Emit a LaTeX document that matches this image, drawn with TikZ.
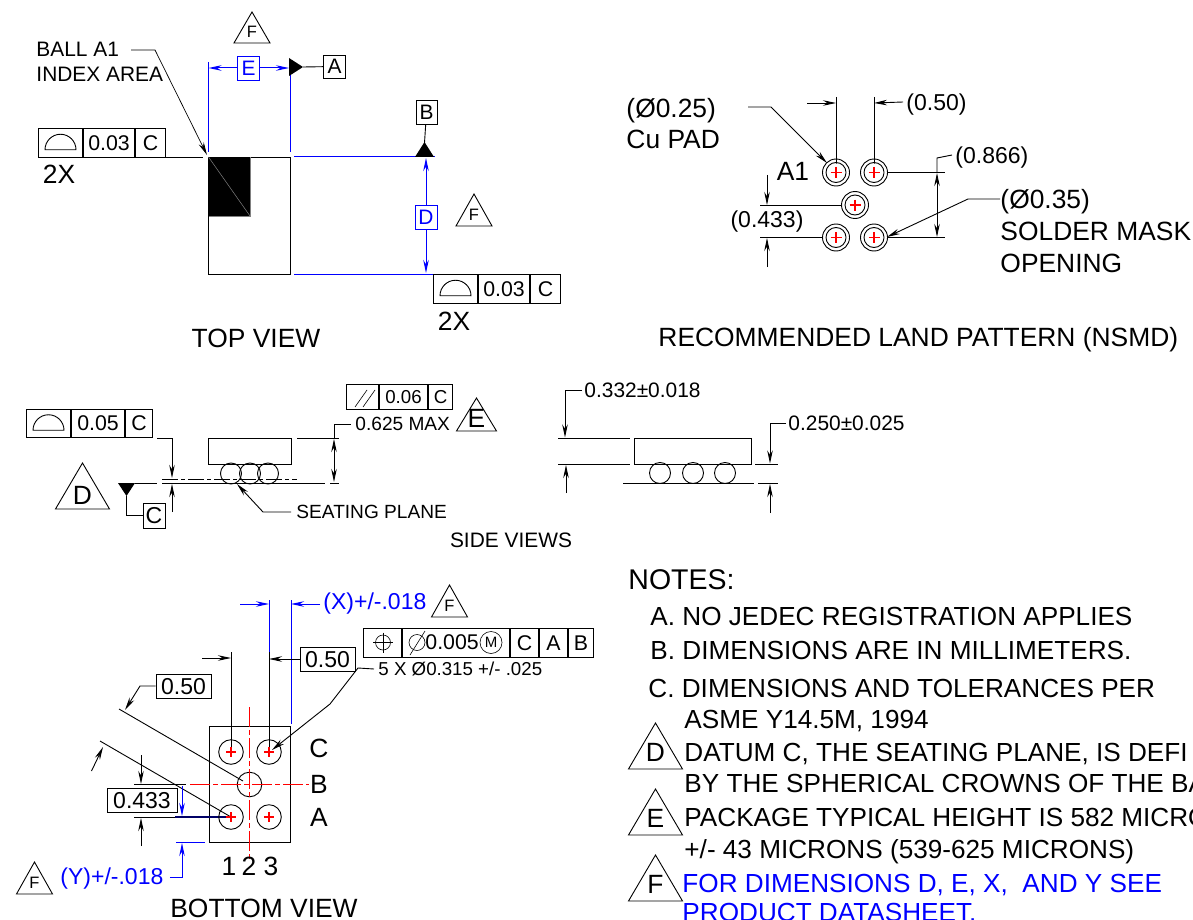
\documentclass[tikz,border=0pt]{standalone}
\usepackage{fontspec}
\setmainfont{Liberation Sans}
\usetikzlibrary{arrows.meta}
\tikzset{
    bigtxt/.style={font=\fontsize{26.4}{30}\selectfont, inner sep=0, text height=18.9pt, text depth=0pt},
    notetxt/.style={font=\fontsize{26.15}{30}\selectfont, inner sep=0, text height=18.7pt, text depth=0pt},
    midtxt/.style={font=\fontsize{23}{26}\selectfont, inner sep=0, text height=16.5pt, text depth=0pt},
    celltxt/.style={font=\fontsize{21.3}{24}\selectfont, inner sep=0, text height=15.3pt, text depth=0pt},
    smalltxt/.style={font=\fontsize{20.9}{24}\selectfont, inner sep=0, text height=15pt, text depth=0pt},
    leadertxt/.style={font=\fontsize{19.1}{22}\selectfont, inner sep=0, text height=13.7pt, text depth=0pt},
    tinytxt/.style={font=\fontsize{18.7}{22}\selectfont, inner sep=0, text height=13.4pt, text depth=0pt},
    flagtxt/.style={font=\fontsize{16.5}{18}\selectfont, inner sep=0, text height=11.8pt, text depth=0pt},
    cellbox/.style={draw, celltxt, minimum height=28.6pt, anchor=north west},
    letterbox/.style={draw, smalltxt, minimum width=22pt, minimum height=24pt},
    blueline/.style={blue, line width=1pt},
    redcentre/.style={red, line width=1.2pt, dash pattern=on 20pt off 3pt on 5pt off 3pt}
}
\newcommand{\flagtri}[8][0.64]{% letter height ratio, name, apex x, apex y, half width, height, letter, style
    \draw (#3, #4) -- ++(#5, #6) -- ++({-2*#5}, 0) -- cycle;
    \path (#3, #4) ++(0, {#1*#6}) node [#8] (#2) {#7};
}
\newcommand{\profileframe}[4]{% name, left, top, value
    \node [cellbox, minimum width=44.1pt] (#1sym) at (#2, #3) {};
    \node [cellbox, minimum width=51.1pt] (#1val) at (#1sym.north east) {#4};
    \node [cellbox, minimum width=30.1pt] (#1dat) at (#1val.north east) {C};
    \draw ([xshift=-15.5pt, yshift=-7pt]#1sym.center) arc [start angle=180, end angle=360, radius=15.5] -- cycle;
}
\begin{document}
\begin{tikzpicture}[x=1pt, y=-1pt, line width=0.9pt, >={Stealth[length=13pt, width=5.5pt]}]
    \useasboundingbox (0, 0) rectangle (1193, 920);
    % top view
    \draw (208.5, 157) rectangle (290.5, 274);
    \fill (208.5, 157) rectangle (250, 216);
    \draw [gray, line width=0.5pt] (208.5, 157) -- (250, 216);
    \draw [gray] (250, 157) -- (250, 216) -- (208.5, 216);
    \node [smalltxt, anchor=west] (ballA) at (36, 49) {BALL A1};
    \node [smalltxt, anchor=west] (indexarea) at (36, 74) {INDEX AREA};
    \draw [->, line width=0.7pt] (131, 50) -- (155, 50) -- (207, 155);
    \profileframe{topleft}{38}{128}{0.03}
    \draw (topleftdat.south east) -- (203, 157.5);
    \node [bigtxt] (twoXa) at (59, 174) {2X};
    \flagtri{flagtop}{252}{12}{18}{31}{F}{flagtxt}
    \draw [blueline] (208.5, 62) -- (208.5, 152);
    \draw [blueline] (290.5, 75) -- (290.5, 152);
    \node [letterbox, draw=blue, text=blue] (dimE) at (248.5, 68) {E};
    \draw [blueline, ->] (dimE) -- (208.5, 68);
    \draw [blueline, ->] (dimE) -- (289, 68);
    \node [letterbox, minimum height=23pt] (datumA) at (334.5, 66.5) {A};
    \fill (289, 58) -- (303, 67) -- (289, 76) -- cycle;
    \draw (303, 67) -- (datumA);
    \draw [blueline] (294, 156.7) -- (435, 156.7);
    \draw [blueline] (294, 274) -- (433, 274);
    \node [letterbox, minimum width=21pt] (datumB) at (426.5, 112) {B};
    \fill (415, 157) -- (424.5, 142) -- (434, 157) -- cycle;
    \draw (datumB) -- (424.5, 143);
    \node [letterbox, draw=blue, text=blue] (dimD) at (426, 217) {D};
    \draw [blueline, ->] (dimD) -- (426, 158);
    \draw [blueline, ->] (dimD) -- (426, 273);
    \flagtri{flagright}{474}{194}{18}{32}{F}{flagtxt}
    \profileframe{topright}{433}{274}{0.03}
    \node [bigtxt] (twoXb) at (454, 321) {2X};
    \node [bigtxt] (topview) at (256, 338) {TOP VIEW};
    % land pattern
    \node [bigtxt, anchor=west] (padsize) at (626, 108) {(Ø0.25)};
    \node [bigtxt, anchor=west] (cupad) at (626, 139) {Cu PAD};
    \node [bigtxt] (aone) at (793, 171) {A1};
    \draw [->] (748, 107) -- (771, 107) -- (827, 163);
    \draw (836, 97) -- (836, 172.5);
    \draw (874, 97) -- (874, 172.5);
    \node [midtxt, anchor=west] (pitchx) at (906, 102) {(0.50)};
    \draw [->] (807, 103) -- (836, 103);
    \draw [->] ([xshift=-3pt]pitchx.west) -- (874, 103);
    \draw (887, 172.5) -- (945, 172.5);
    \draw (887, 237.5) -- (945, 237.5);
    \node [midtxt, anchor=west] (pitchy) at (955, 155) {(0.866)};
    \draw [<->] (937, 173) -- (937, 237);
    \draw (937, 173) -- (937, 158) -- ([xshift=-3pt]pitchy.west);
    \draw (760, 205) -- (842, 205);
    \draw (760, 237.5) -- (823, 237.5);
    \node [midtxt] (rowy) at (767, 219) {(0.433)};
    \draw [->] (767, 175) -- (767, 205);
    \draw [->] (767, 267) -- (767, 238);
    \node [bigtxt, anchor=west] (masksize) at (1000, 199) {(Ø0.35)};
    \draw [->] (masksize.west) -- (968, 199) -- (887, 237);
    \node [bigtxt, anchor=west] (soldermask) at (1000, 231) {SOLDER MASK};
    \node [bigtxt, anchor=west] (opening) at (1000, 263) {OPENING};
    \node [bigtxt, anchor=west] (landview) at (658, 337) {RECOMMENDED LAND PATTERN (NSMD)};
    \foreach \px/\py in {836/172.5, 874/172.5, 855/205, 836/237.5, 874/237.5} {
        \fill [white] (\px, \py) circle [radius=9];
        \draw (\px, \py) circle [radius=13.5];
        \draw (\px, \py) circle [radius=10];
        \draw [red, line width=1.1pt] (\px, \py) ++(-5.5, 0) -- ++(11, 0);
        \draw [red, line width=1.1pt] (\px, \py) ++(0, -5.5) -- ++(0, 11);
    }
    % side views
    \node [cellbox, minimum width=44.1pt] (sidesym) at (26, 408.5) {};
    \node [cellbox, minimum width=53.1pt] (sideval) at (sidesym.north east) {0.05};
    \node [cellbox, minimum width=27.1pt] (sidedat) at (sideval.north east) {C};
    \draw ([xshift=-15.5pt, yshift=-7pt]sidesym.center) arc [start angle=180, end angle=360, radius=15.5] -- cycle;
    \node [draw, tinytxt, minimum width=32.1pt, minimum height=25.6pt, anchor=north west] (parsym) at (346, 383.5) {};
    \node [draw, tinytxt, minimum width=48.1pt, minimum height=25.6pt, anchor=north west] (parval) at (parsym.north east) {0.06};
    \node [draw, tinytxt, minimum width=24.1pt, minimum height=25.6pt, anchor=north west] (pardat) at (parval.north east) {C};
    \foreach \sx in {355, 363} {
        \draw [line width=0.6pt] (\sx, 407) -- ++(12, -17);
    }
    \draw (208.5, 438) rectangle (291, 464);
    \foreach \bx in {231, 250, 268} {
        \draw (\bx, 473.5) circle [radius=10.5];
    }
    \draw (135, 483) -- (157, 483);
    \draw (162, 483) -- (325, 483);
    \draw [dash pattern=on 16pt off 3pt on 4pt off 3pt, line width=0.6pt] (162, 479) -- (297, 479);
    \draw (297, 438) -- (339, 438);
    \draw (330, 483) -- (339, 483);
    \node [leadertxt, anchor=west] (maxheight) at (355, 424) {0.625 MAX};
    \draw [<->] (334, 439) -- (334, 482);
    \draw (334, 439) -- (334, 424) -- ([xshift=-4pt]maxheight.west);
    \flagtri[0.6]{flagE}{476.5}{398}{20}{33}{E}{bigtxt}
    \flagtri[0.7]{flagD}{82.5}{463}{27}{46}{D}{bigtxt}
    \draw [->] (157, 438) -- (172, 438) -- (172, 478);
    \draw [->] (172, 512) -- (172, 484);
    \fill (118, 483) -- (135, 483) -- (126.5, 496) -- cycle;
    \node [draw, midtxt, minimum width=22pt, minimum height=25pt] (datumC) at (154, 515.5) {C};
    \draw (126.5, 496) -- (126.5, 515.5) -- (datumC);
    \node [leadertxt, anchor=west] (seating) at (296, 512) {SEATING PLANE};
    \draw [->] ([xshift=-5pt]seating.west) -- (263, 512) -- (237, 484);
    \node [smalltxt] (sideviews) at (511, 540) {SIDE VIEWS};
    % right side view
    \draw (634, 438) rectangle (751, 464);
    \foreach \bx in {660, 693, 725} {
        \draw (\bx, 473) circle [radius=10.5];
    }
    \draw (623, 483) -- (754, 483);
    \draw (558, 438) -- (630, 438);
    \draw (558, 464) -- (630, 464);
    \node [smalltxt, anchor=west] (bodythick) at (584, 390) {0.332±0.018};
    \draw [->] ([xshift=-2pt]bodythick.west) -- (565, 390) -- (565, 437.5);
    \draw [->] (566, 493) -- (566, 465);
    \draw (755, 464) -- (778, 464);
    \draw (758, 483) -- (778, 483);
    \node [smalltxt, anchor=west] (ballheight) at (788, 423) {0.250±0.025};
    \draw [->] ([xshift=-2pt]ballheight.west) -- (770, 423) -- (770, 463.5);
    \draw [->] (770, 513) -- (770, 484);
    % bottom view
    \draw (209, 726) rectangle (290.5, 842);
    \draw (231, 652) -- (231, 752);
    \draw (269, 652) -- (269, 752);
    \draw [blueline] (269, 600) -- (269, 652);
    \draw [blueline, line width=0.7pt] (291, 600) -- (291, 724);
    \node [midtxt, text=blue, anchor=west] (xdim) at (323, 601) {(X)+/-.018};
    \draw [blueline, ->] (240, 604) -- (269, 604);
    \draw [blueline, ->] ([xshift=-3pt, yshift=-3pt]xdim.west) -- (291, 604);
    \flagtri{flagX}{449.5}{585}{18}{32}{F}{flagtxt}
    \node [draw, minimum width=38.1pt, minimum height=29pt, inner sep=0, anchor=north west] (possym) at (363, 628) {};
    \node [draw, minimum width=107.1pt, minimum height=29pt, inner sep=0, anchor=north west] (posval) at (possym.north east) {};
    \node [cellbox, minimum width=28.1pt, minimum height=29pt] (posc) at (posval.north east) {C};
    \node [cellbox, minimum width=28.1pt, minimum height=29pt] (posa) at (posc.north east) {A};
    \node [cellbox, minimum width=25.1pt, minimum height=29pt] (posb) at (posa.north east) {B};
    \draw [line width=0.6pt] (383, 642.5) circle [radius=7.5];
    \draw [line width=0.6pt] (373, 642.5) -- (393, 642.5);
    \draw [line width=0.6pt] (383, 632.5) -- (383, 652.5);
    \draw [line width=0.6pt] (417, 642.5) circle [radius=8];
    \draw [line width=0.6pt] (410, 655) -- (425, 631);
    \node [celltxt, anchor=west] (posnum) at (425, 642) {0.005};
    \node [draw, circle, line width=0.6pt, minimum size=22pt, inner sep=0, font=\fontsize{15}{15}\selectfont] (mmc) at (491, 642.5) {M};
    \node [tinytxt, anchor=west] (fivex) at (378, 669) {5 X Ø0.315 +/- .025};
    \draw [->] ([xshift=-4pt]fivex.west) -- (358, 668) -- (330, 704) -- (272, 750);
    \node [draw, midtxt, minimum width=55pt, minimum height=24pt] (pitchA) at (327.5, 659) {0.50};
    \draw [->] (pitchA) -- (269, 659);
    \draw [->] (202, 658) -- (231, 658);
    \node [draw, midtxt, minimum width=55pt, minimum height=24pt] (pitchB) at (183.5, 686) {0.50};
    \draw [->] (pitchB) -- (140, 686) -- (125, 710);
    \draw (119, 709) -- (243, 781);
    \draw (100, 741) -- (231, 817);
    \draw [->] (91.5, 771) -- (103, 747);
    \node [draw, midtxt, minimum width=70pt, minimum height=24.5pt] (pitchC) at (142, 800.5) {0.433};
    \draw [->] (141, 755) -- (141, 784);
    \draw (134, 784.5) -- (186, 784.5);
    \draw (134, 817) -- (175, 817);
    \draw [line width=1.4pt, blue!40!black] (175, 817) -- (228, 817);
    \draw [->] (141, 846) -- (141, 818);
    \draw [blueline, ->] (182, 786) -- (182, 816);
    \draw [blueline] (176, 842) -- (205, 842);
    \node [midtxt, text=blue, anchor=west] (ydim) at (60, 876) {(Y)+/-.018};
    \draw [blueline, ->] (ydim.east) ++(6, 1) -- (182, 877) -- (182, 843);
    \flagtri{flagY}{34.5}{862}{18}{32}{F}{flagtxt}
    \draw (249.5, 784.5) circle [radius=12.3];
    \foreach \px/\py in {231/752, 269/752, 231/817, 269/817} {
        \draw (\px, \py) circle [radius=12.3];
        \draw [red, line width=1.1pt] (\px, \py) ++(-5, 0) -- ++(10, 0);
        \draw [red, line width=1.1pt] (\px, \py) ++(0, -5) -- ++(0, 10);
    }
    \draw [redcentre] (249.5, 707) -- (249.5, 860);
    \draw [redcentre] (190, 784.5) -- (309, 784.5);
    \node [bigtxt] (rowC) at (319, 748) {C};
    \node [bigtxt] (rowB) at (319, 784) {B};
    \node [bigtxt] (rowA) at (319, 817) {A};
    \node [bigtxt] (colA) at (229, 866) {1};
    \node [bigtxt] (colB) at (249, 866) {2};
    \node [bigtxt] (colC) at (271, 866) {3};
    \node [bigtxt] (bottomview) at (264, 908) {BOTTOM VIEW};
    % notes
    \node [font=\fontsize{28.5}{32}\selectfont, inner sep=0, text height=20.4pt, text depth=0pt, anchor=west] (notes) at (628, 579) {NOTES:};
    \node [notetxt, anchor=west] (noteA) at (650, 616) {A. NO JEDEC REGISTRATION APPLIES};
    \node [notetxt, anchor=west] (noteB) at (650, 650) {B. DIMENSIONS ARE IN MILLIMETERS.};
    \node [notetxt, anchor=west] (noteC) at (648, 688) {C. DIMENSIONS AND TOLERANCES PER};
    \node [notetxt, anchor=west] (noteCb) at (684, 719) {ASME Y14.5M, 1994};
    \flagtri{flagNoteD}{655.5}{723}{27}{46}{D}{bigtxt}
    \node [notetxt, anchor=west] (noteD) at (684, 752) {DATUM C, THE SEATING PLANE, IS DEFI};
    \node [notetxt, anchor=west] (noteDb) at (684, 783) {BY THE SPHERICAL CROWNS OF THE BA};
    \flagtri{flagNoteE}{655.5}{789}{27}{46}{E}{bigtxt}
    \node [notetxt, anchor=west] (noteE) at (684, 817) {PACKAGE TYPICAL HEIGHT IS 582 MICRO};
    \node [notetxt, anchor=west] (noteEb) at (684, 849) {+/- 43 MICRONS (539-625 MICRONS)};
    \flagtri{flagNoteF}{655.5}{855}{27}{46}{F}{bigtxt}
    \node [notetxt, text=blue, anchor=west] (noteF) at (682, 883) {FOR DIMENSIONS D, E, X,~ AND Y SEE};
    \node [notetxt, text=blue, anchor=west] (noteFb) at (682, 912) {PRODUCT DATASHEET.};
\end{tikzpicture}
\end{document}
